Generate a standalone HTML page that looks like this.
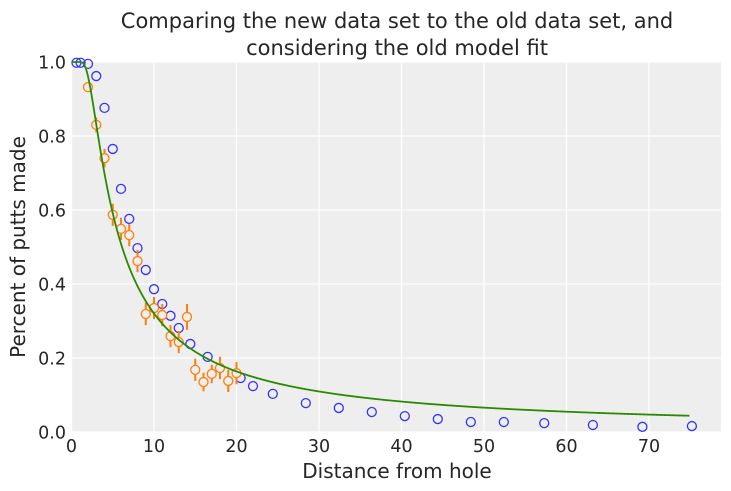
<!DOCTYPE html>
<html><head><meta charset="utf-8"><style>
html,body{margin:0;padding:0;background:#fff;}
svg{display:block;font-family:"DejaVu Sans","Liberation Sans",sans-serif;}
</style></head><body>
<svg id="chart" width="731" height="491">
<text x="397" y="28" text-anchor="middle" font-size="21" fill="#262626">Comparing the new data set to the old data set, and</text>
<text x="397" y="55" text-anchor="middle" font-size="21" fill="#262626">considering the old model fit</text>
<rect x="71.5" y="62" width="649.5" height="370" fill="#eeeeee"/>
<g id="grid"></g><g id="ticks"></g><g id="marks"></g>
<text x="397" y="478" text-anchor="middle" font-size="20" fill="#262626">Distance from hole</text>
<text transform="translate(25,247) rotate(-90)" text-anchor="middle" font-size="20" fill="#262626">Percent of putts made</text>
</svg>
<script>
const oldX=[0.6,1.1,2,3,4,5,6,7,8,9,10,11,12,13,14.4,16.5,20.5,22,24.4,28.4,32.4,36.4,40.4,44.4,48.4,52.4,57.3,63.2,69.2,75.2];
const oldY=[0.998,0.998,0.995,0.962,0.876,0.765,0.657,0.576,0.497,0.438,0.386,0.346,0.314,0.281,0.238,0.203,0.146,0.124,0.103,0.078,0.065,0.054,0.043,0.035,0.027,0.027,0.024,0.019,0.014,0.016];
const newX=[2,3,4,5,6,7,8,9,10,11,12,13,14,15,16,17,18,19,20];
const newY=[0.932,0.830,0.740,0.587,0.549,0.532,0.462,0.319,0.335,0.316,0.259,0.243,0.311,0.168,0.135,0.157,0.173,0.138,0.159];
const newErr=[0.012,0.02,0.025,0.03,0.03,0.03,0.03,0.03,0.03,0.03,0.03,0.03,0.035,0.03,0.025,0.025,0.03,0.03,0.03];
const xTicks=[0,10,20,30,40,50,60,70];
const yTicks=[0.0,0.2,0.4,0.6,0.8,1.0];
const sigma=0.0259, threshold=0.107;
const NS="http://www.w3.org/2000/svg";
const X=v=>71.5+v*8.25, Y=v=>432-v*370;
function mk(tag,attrs,parent){const e=document.createElementNS(NS,tag);for(const k in attrs)e.setAttribute(k,attrs[k]);document.getElementById(parent).appendChild(e);return e;}
xTicks.forEach(t=>{
 const l=mk('line',{x1:X(t),x2:X(t),y1:62,y2:432,stroke:'#fff','stroke-width':1.2},'grid');
 
 
 const tx=mk('text',{x:X(t),y:452,'text-anchor':'middle','font-size':17.5,fill:'#262626'},'ticks');tx.textContent=t;
 
 
});
yTicks.forEach(t=>{
 const l=mk('line',{x1:71.5,x2:721,y1:Y(t),y2:Y(t),stroke:'#fff','stroke-width':1.2},'grid');
 
 
 const tx=mk('text',{x:66,y:Y(t)+6.5,'text-anchor':'end','font-size':17.5,fill:'#262626'},'ticks');tx.textContent=t.toFixed(1);
 
 
});
function erf(x){const s=Math.sign(x);x=Math.abs(x);const t=1/(1+0.3275911*x);const y=1-(((((1.061405429*t-1.453152027)*t)+1.421413741)*t-0.284496736)*t+0.254829592)*t*Math.exp(-x*x);return s*y;}
function model(d){const a=Math.asin(Math.min(1,threshold/Math.max(d,1e-6)));return erf(a/sigma/Math.SQRT2);}
oldX.forEach((x,i)=>{
 const c=mk('circle',{cx:X(x),cy:Y(oldY[i]),r:4.5,fill:'none',stroke:'#3333ff','stroke-width':1.3},'marks');
 
 
});
newX.forEach((x,i)=>{
 const e=mk('line',{x1:X(x),x2:X(x),y1:Y(newY[i]-newErr[i]),y2:Y(newY[i]+newErr[i]),stroke:'#ff7f0e','stroke-width':2},'marks');
 
 
 const c=mk('circle',{cx:X(x),cy:Y(newY[i]),r:4.5,fill:'#eeeeee',stroke:'#ff7f0e','stroke-width':1.3},'marks');
 
 
});
let d='';for(let x=0;x<=75;x+=0.1){const v=Math.min(1,model(x));d+=(d?'L':'M')+X(x).toFixed(2)+','+Y(v).toFixed(2);}
const p=mk('path',{d:d,fill:'none',stroke:'#2a8a00','stroke-width':1.8},'marks');


</script>
</body></html>
